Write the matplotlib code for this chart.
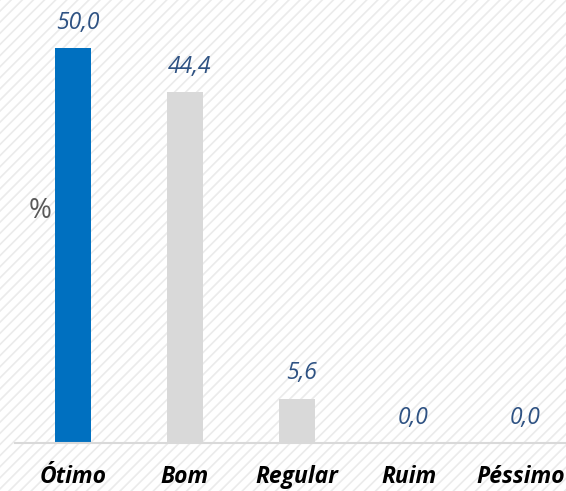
import matplotlib.pyplot as plt
from matplotlib.patches import Rectangle

categorias = ["Ótimo", "Bom", "Regular", "Ruim", "Péssimo"]
valores = [50.0, 44.4, 5.6, 0.0, 0.0]
cores = ["#0070C0", "#D9D9D9", "#D9D9D9", "#D9D9D9", "#D9D9D9"]

plt.rcParams['font.family'] = ['Open Sans', 'DejaVu Sans']
plt.rcParams['hatch.linewidth'] = 1.2

fig = plt.figure(figsize=(5.66, 4.91), dpi=100)
# fundo listrado
fig.patches.append(Rectangle((0, 0), 1, 1, transform=fig.transFigure,
                             facecolor="white", edgecolor="#EBEBEB",
                             hatch="///", linewidth=0, zorder=-10))

ax = fig.add_axes([15/566, 48/491, 551/566, 443/491])
ax.patch.set_alpha(0)

x = range(len(categorias))
ax.bar(x, valores, width=0.32, color=cores, zorder=2)

for i, v in enumerate(valores):
    ax.text(i + 0.04, v + 1.7, f"{v:.1f}".replace(".", ","), ha="center", va="bottom",
            fontsize=16.5, style="italic", color="#2E5283")

ax.set_xlim(-58/112, 493/112)
ax.set_ylim(0, 443/7.9)

ax.set_xticks(list(x))
ax.set_xticklabels(categorias, fontsize=16.5, fontweight="bold", style="italic", color="black")
ax.tick_params(axis="x", length=0, pad=16)
ax.set_yticks([])

for s in ["top", "right", "left"]:
    ax.spines[s].set_visible(False)
ax.spines["bottom"].set_color("#D9D9D9")
ax.spines["bottom"].set_linewidth(1.5)

fig.text(40/566, 1 - 211/491, "%", fontsize=20, color="#595959", ha="center", va="center")

fig.savefig("out.png", dpi=100)
